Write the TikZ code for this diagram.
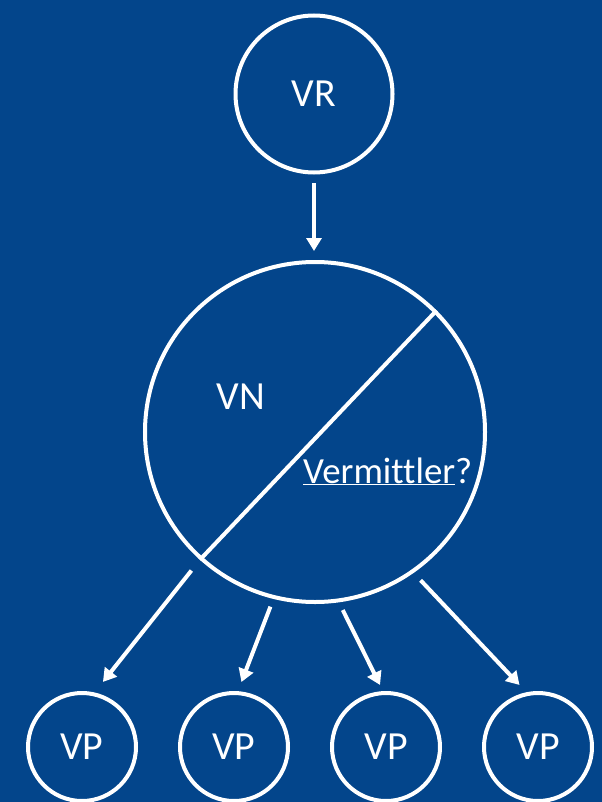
\documentclass[tikz,border=0pt]{standalone}
\usepackage{fontspec}
\setmainfont[Ligatures={NoCommon}]{Carlito}
\usetikzlibrary{arrows.meta}
\definecolor{bgblue}{RGB}{3,69,139}
\begin{document}
\begin{tikzpicture}[x=1bp,y=-1bp,
  circ/.style={circle,draw=white,line width=4bp,inner sep=0pt,text=white,font=\fontsize{40}{48}\selectfont},
  lbl/.style={text=white,inner sep=0pt},
  arr/.style={draw=white,line width=4bp,-{Triangle[width=15bp,length=13bp]}},
  divider/.style={draw=white,line width=4bp},
]
\fill[bgblue] (0,0) rectangle (602,802);
\useasboundingbox (0,0) rectangle (602,802);
\node[circ,minimum size=157bp] (vr) at (314,94) {VR};
\node[circ,minimum size=340bp] (vn) at (315,432) {};
\node[circ,minimum size=108bp] (vp1) at (82,747) {VP};
\node[circ,minimum size=108bp] (vp2) at (234,747) {VP};
\node[circ,minimum size=108bp] (vp3) at (386,747) {VP};
\node[circ,minimum size=108bp] (vp4) at (538,747) {VP};
\node[lbl,font=\fontsize{40}{48}\selectfont] (vnl) at (241,396.5) {VN};
\node[lbl,anchor=base west,font=\fontsize{37}{44}\selectfont] (vm) at (303,483) {\underline{Vermittler}?};
\draw[divider] (vn.45.2) -- (vn.228.3);
\draw[arr,shorten <=8.5bp,shorten >=9bp] (vr.south) -- (vr.south |- vn.north);
\draw[arr,shorten <=13.7bp,shorten >=13.4bp] (vn.228.8) -- (vp1.77);
\draw[arr,shorten <=8.3bp,shorten >=9.8bp] (vn.256.6) -- (vp2.86.6);
\draw[arr,shorten <=8.6bp,shorten >=6.8bp] (vn.278.1) -- (vp3.93.1);
\draw[arr,shorten <=10.1bp,shorten >=10bp] (vn.305.2) -- (vp4.102.6);
\end{tikzpicture}
\end{document}
